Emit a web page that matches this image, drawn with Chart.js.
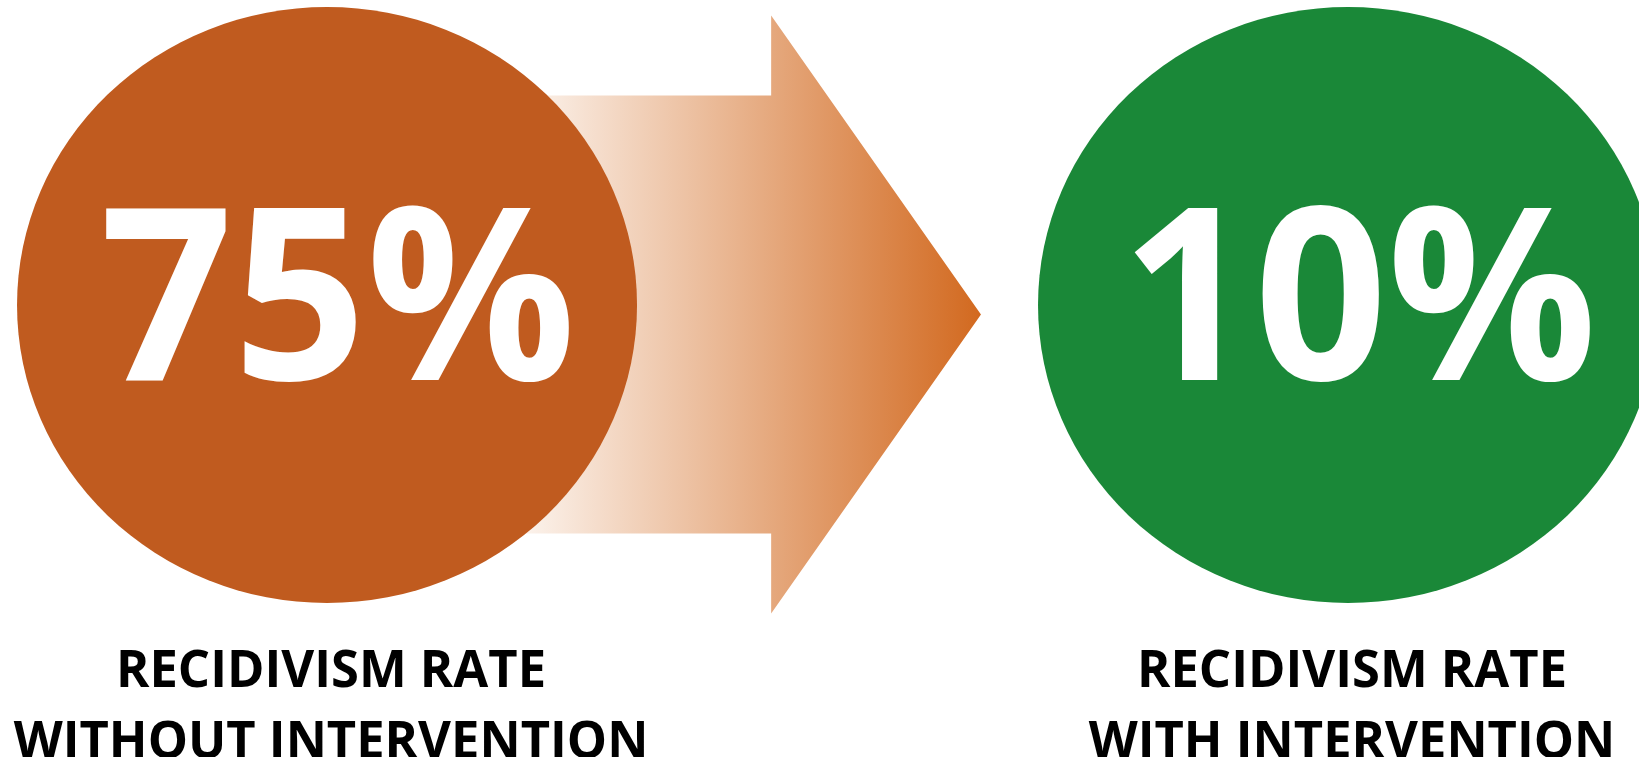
<!DOCTYPE html>
<html>
<head>
<meta charset="utf-8">
<script src="https://cdn.jsdelivr.net/npm/chart.js@4.4.0/dist/chart.umd.min.js"></script>
<style>
    html, body { margin: 0; padding: 0; background: #ffffff; overflow: hidden; }
    #wrap { width: 1639px; height: 757px; }
</style>
</head>
<body>
<div id="wrap"><canvas id="recidivismChart"></canvas></div>
<script>
// data
const categories = [
    ['RECIDIVISM RATE', 'WITHOUT INTERVENTION'],
    ['RECIDIVISM RATE', 'WITH INTERVENTION']
];
const rates = [75, 10];
const slots = [0, 1];

const theme = {
    without: '#c05b1f',
    with: '#1a8838',
    arrowLight: '#fcf4ee',
    arrowDark: '#d2691f',
    label: '#000000',
    value: '#ffffff',
};

const fontFamily = '"Open Sans", "Noto Sans", sans-serif';

// ellipses, arrow and texts are drawn off the scatter points
const infographicPlugin = {
    id: 'infographic',
    beforeDatasetsDraw(chart) {
        const pts = chart.getDatasetMeta(0).data;
        if (pts.length < 2) return;
        const ctx = chart.ctx;
        const x0 = pts[0].x;
        const gap = pts[1].x - x0;
        const ay = pts[0].y + 9.5;
        const shaftLeft = x0 + 0.12 * gap;
        const headBase = x0 + 0.435 * gap;
        const tip = x0 + 0.6405 * gap;
        const shaftHalf = 219;
        const headHalf = 299;

        const grad = ctx.createLinearGradient(x0 + 0.19 * gap, 0, tip, 0);
        grad.addColorStop(0, theme.arrowLight);
        grad.addColorStop(1, theme.arrowDark);

        ctx.save();
        ctx.beginPath();
        ctx.moveTo(shaftLeft, ay - shaftHalf);
        ctx.lineTo(headBase, ay - shaftHalf);
        ctx.lineTo(headBase, ay - headHalf);
        ctx.lineTo(tip, ay);
        ctx.lineTo(headBase, ay + headHalf);
        ctx.lineTo(headBase, ay + shaftHalf);
        ctx.lineTo(shaftLeft, ay + shaftHalf);
        ctx.closePath();
        ctx.fillStyle = grad;
        ctx.fill();
        ctx.restore();
    },
    afterDatasetsDraw(chart) {
        const ctx = chart.ctx;
        const ds = chart.data.datasets[0];
        chart.getDatasetMeta(0).data.forEach((pt, i) => {
            ctx.save();
            ctx.beginPath();
            ctx.ellipse(pt.x, pt.y, 310, 298, 0, 0, Math.PI * 2);
            ctx.fillStyle = ds.backgroundColor[i];
            ctx.fill();

            // value in the middle
            ctx.fillStyle = theme.value;
            ctx.textAlign = 'center';
            ctx.textBaseline = 'alphabetic';
            ctx.font = 'bold 240px ' + fontFamily;
            ctx.save();
            ctx.translate(pt.x + 11, pt.y + 75);
            ctx.scale(0.97, 1);
            ctx.fillText(rates[i] + '%', 0, 0);
            ctx.restore();

            // category label below
            ctx.fillStyle = theme.label;
            ctx.font = 'bold 52px ' + fontFamily;
            categories[i].forEach((line, j) => {
                ctx.save();
                ctx.translate(pt.x + 4, pt.y + 382 + j * 71);
                ctx.scale(0.975, 1);
                ctx.fillText(line, 0, 0);
                ctx.restore();
            });
            ctx.restore();
        });
    }
};

const ctx = document.getElementById('recidivismChart').getContext('2d');
new Chart(ctx, {
    type: 'scatter',
    data: {
        labels: categories.map(c => c.join(' ')),
        datasets: [{
            label: 'Recidivism rate (%)',
            data: slots.map((s, i) => ({ x: s, y: 0, rate: rates[i] })),
            backgroundColor: [theme.without, theme.with],
            pointRadius: 0,
            pointHoverRadius: 0,
        }]
    },
    options: {
        responsive: true,
        maintainAspectRatio: false,
        animation: false,
        devicePixelRatio: 1,
        layout: { padding: { left: 0, right: 0, top: 0, bottom: 147 } },
        scales: {
            x: { type: 'linear', min: -0.3203, max: 1.285, display: false },
            y: { type: 'linear', min: -1, max: 1, display: false }
        },
        plugins: {
            legend: { display: false },
            tooltip: { enabled: false }
        }
    },
    plugins: [infographicPlugin]
});
</script>
</body>
</html>
